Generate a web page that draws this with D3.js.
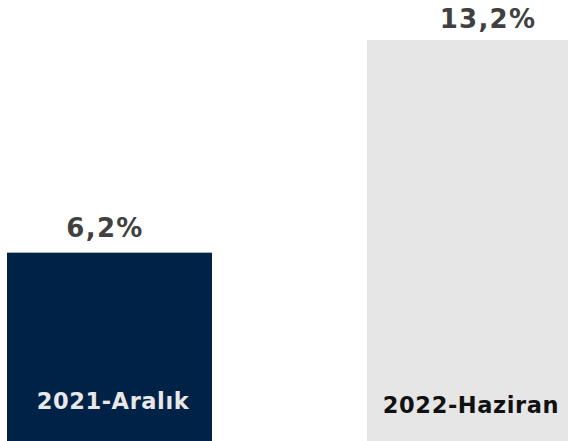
<!DOCTYPE html>
<html>
<head>
<meta charset="utf-8">
<script src="https://cdn.jsdelivr.net/npm/d3@7"></script>
<style>
  body { margin: 0; background: #fff; }
  svg { display: block; }
  .value_label { font-family: "DejaVu Sans", Verdana, sans-serif; font-weight: bold; font-size: 26px; letter-spacing: 1.3px; fill: #404040; }
  .cat_label { font-family: "DejaVu Sans", Verdana, sans-serif; font-weight: bold; font-size: 22.5px; letter-spacing: 0.6px; }
</style>
</head>
<body>
<div id="chart"></div>
<script>
var categories = ["2021-Aralık", "2022-Haziran"];
var values = [6.2, 13.2];
var valueLabels = ["6,2%", "13,2%"];

var svgWidth = 568, svgHeight = 441;
var barColors = ["#012247", "#e6e6e6"];
var catColors = ["#e8e8e8", "#111111"];
// small nudges so labels sit where the original put them
var valueDx = [-4.5, 18.5], valueDy = [-16, -12];
var catDx = [3.5, 1.5], catBaseline = [409, 413];

var svg = d3.select("#chart").append("svg")
    .attr("width", svgWidth)
    .attr("height", svgHeight);

var x = d3.scaleBand()
    .domain(categories)
    .range([7, 572])
    .paddingInner(0.4306)
    .paddingOuter(0);

var y = d3.scaleLinear()
    .domain([0, d3.max(values)])
    .range([svgHeight, 40]);

svg.selectAll(".bar")
    .data(values)
    .enter().append("rect")
    .attr("class", "bar")
    .attr("x", (d, i) => x(categories[i]))
    .attr("y", d => y(d))
    .attr("width", x.bandwidth())
    .attr("height", d => y(0) - y(d))
    .attr("fill", (d, i) => barColors[i]);

svg.selectAll(".value_label")
    .data(values)
    .enter().append("text")
    .attr("class", "value_label")
    .attr("text-anchor", "middle")
    .attr("x", (d, i) => x(categories[i]) + x.bandwidth() / 2 + valueDx[i])
    .attr("y", (d, i) => y(d) + valueDy[i])
    .text((d, i) => valueLabels[i]);

svg.selectAll(".cat_label")
    .data(categories)
    .enter().append("text")
    .attr("class", "cat_label")
    .attr("text-anchor", "middle")
    .attr("x", (d, i) => x(d) + x.bandwidth() / 2 + catDx[i])
    .attr("y", (d, i) => catBaseline[i])
    .attr("fill", (d, i) => catColors[i])
    .text(d => d);
</script>
</body>
</html>
